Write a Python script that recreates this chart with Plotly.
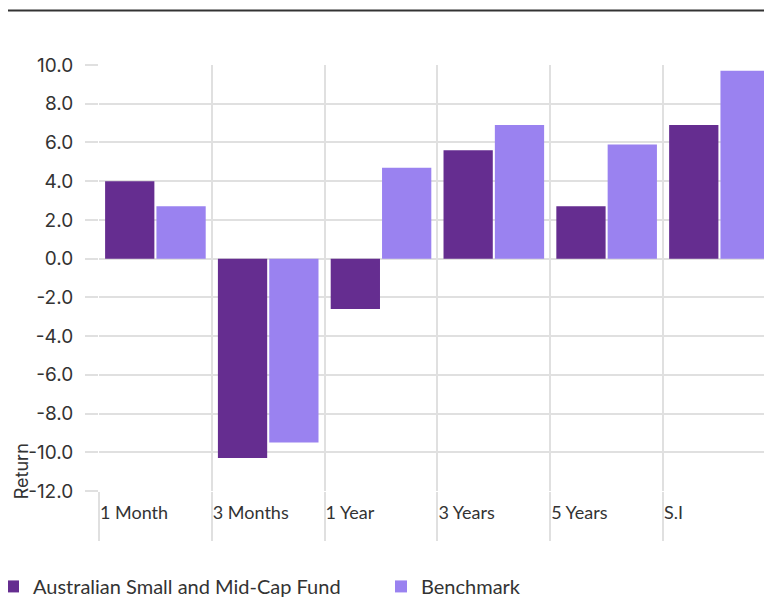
import plotly.graph_objects as go

categories = ["1 Month", "3 Months", "1 Year", "3 Years", "5 Years", "S.I"]
fund_name = "Australian Small and Mid-Cap Fund"
bench_name = "Benchmark"
fund_values = [4.0, -10.3, -2.6, 5.6, 2.7, 6.9]
bench_values = [2.7, -9.5, 4.7, 6.9, 5.9, 9.7]
y_tick_values = [10, 8, 6, 4, 2, 0, -2, -4, -6, -8, -10, -12]
y_tick_labels = ["10.0", "8.0", "6.0", "4.0", "2.0", "0.0", "-2.0", "-4.0",
                 "-6.0", "-8.0", "-10.0", "-12.0"]
y_title = "Return"

FUND_COLOR = "#652d90"
BENCH_COLOR = "#9a82f0"
GRID = "#e0e0e0"
TEXT = "#333333"

xpos = list(range(len(categories)))

fig = go.Figure()
fig.add_trace(go.Bar(x=xpos, y=fund_values, name=fund_name, legend="legend",
                     marker=dict(color=FUND_COLOR, line=dict(width=0))))
fig.add_trace(go.Bar(x=xpos, y=bench_values, name=bench_name, legend="legend2",
                     marker=dict(color=BENCH_COLOR, line=dict(width=0))))

legend_common = dict(orientation="h", xanchor="left", y=-0.224, yanchor="middle",
                     font=dict(family="Lato, sans-serif", size=20, color=TEXT),
                     itemwidth=30, bgcolor="rgba(0,0,0,0)")

fig.update_layout(
    width=772, height=597,
    margin=dict(l=91, r=8, t=57, b=114, autoexpand=False),
    paper_bgcolor="white", plot_bgcolor="white",
    barmode="group", bargap=0.09, bargroupgap=0.04,
    font=dict(family="Lato, sans-serif", size=18, color=TEXT),
    showlegend=True,
    legend=dict(x=-0.1575, **legend_common),
    legend2=dict(x=0.419, **legend_common),
    xaxis=dict(
        range=[-0.5, 5.466],
        tickmode="array",
        tickvals=[i - 0.5 for i in xpos],
        ticktext=categories,
        ticklabelposition="outside right",
        showgrid=True, gridcolor=GRID, gridwidth=2,
        ticks="outside", ticklen=49, tickcolor=GRID, tickwidth=2,
        ticklabelstandoff=5,
        zeroline=False, showline=False, automargin=False,
        tickfont=dict(family="Lato, sans-serif", size=18, color=TEXT),
    ),
    yaxis=dict(
        range=[-12, 10],
        tickmode="array",
        tickvals=y_tick_values,
        ticktext=y_tick_labels,
        showgrid=True, gridcolor=GRID, gridwidth=2,
        ticks="outside", ticklen=13, tickcolor=GRID, tickwidth=2,
        ticklabelstandoff=8,
        zeroline=False, showline=False, automargin=False,
        tickfont=dict(family="Inter, sans-serif", size=19, color=TEXT),
    ),
    shapes=[dict(type="line", xref="paper", yref="paper",
                 x0=-0.1367, x1=1.02, y0=1.128, y1=1.128,
                 line=dict(color="#333333", width=2))],
    annotations=[dict(text=y_title, xref="paper", yref="y", x=-0.1150, y=-11.0,
                      xanchor="center", yanchor="middle", textangle=-90, showarrow=False,
                      font=dict(family="Inter, sans-serif", size=18, color=TEXT))],
)

fig.write_html("out.html")
